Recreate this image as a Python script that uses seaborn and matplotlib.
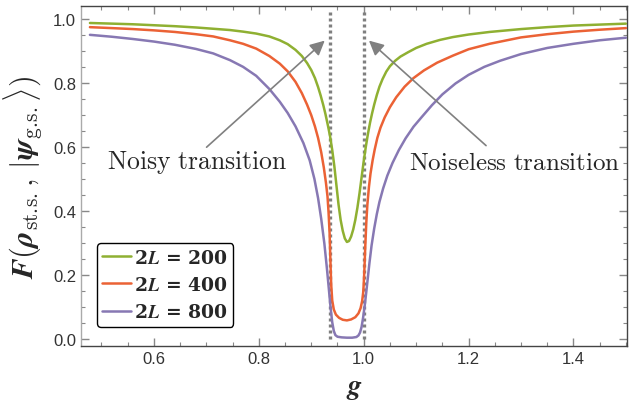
import numpy as np
import pandas as pd
import matplotlib
matplotlib.use("Agg")
import matplotlib.pyplot as plt
import seaborn as sns

# valores (g, fidelidade) para cada tamanho de cadeia
g_200 = [0.478, 0.520, 0.560, 0.600, 0.640, 0.680, 0.713, 0.745, 0.770, 0.795, 0.820, 0.840,
         0.855, 0.870, 0.882, 0.892, 0.900, 0.907, 0.913, 0.918, 0.923, 0.927, 0.932, 0.936,
         0.940, 0.944, 0.948, 0.952, 0.956, 0.960, 0.964, 0.968, 0.972, 0.976, 0.980, 0.984,
         0.988, 0.992, 0.996, 1.000, 1.004, 1.008, 1.012, 1.016, 1.020, 1.025, 1.030, 1.036,
         1.043, 1.050, 1.060, 1.070, 1.085, 1.100, 1.120, 1.145, 1.170, 1.200, 1.240, 1.300,
         1.350, 1.400, 1.450, 1.500]
f_200 = [0.987, 0.985, 0.983, 0.980, 0.977, 0.973, 0.969, 0.965, 0.960, 0.954, 0.945, 0.933,
         0.921, 0.903, 0.884, 0.862, 0.840, 0.815, 0.787, 0.760, 0.730, 0.703, 0.665, 0.632,
         0.590, 0.540, 0.480, 0.420, 0.372, 0.338, 0.314, 0.303, 0.306, 0.320, 0.342, 0.372,
         0.410, 0.455, 0.505, 0.555, 0.600, 0.640, 0.675, 0.705, 0.732, 0.762, 0.788, 0.812,
         0.835, 0.852, 0.869, 0.882, 0.896, 0.909, 0.922, 0.934, 0.943, 0.951, 0.959, 0.968,
         0.974, 0.979, 0.982, 0.985]

g_400 = [0.478, 0.520, 0.560, 0.600, 0.640, 0.680, 0.713, 0.745, 0.770, 0.795, 0.820, 0.840,
         0.855, 0.870, 0.882, 0.892, 0.900, 0.907, 0.913, 0.919, 0.924, 0.928, 0.931, 0.933,
         0.935, 0.936, 0.937, 0.938, 0.940, 0.943, 0.947, 0.953, 0.960, 0.968, 0.976, 0.984,
         0.990, 0.994, 0.997, 0.999, 1.000, 1.001, 1.002, 1.003, 1.005, 1.007, 1.010, 1.013,
         1.017, 1.021, 1.026, 1.032, 1.040, 1.050, 1.062, 1.078, 1.095, 1.115, 1.140, 1.170,
         1.200, 1.240, 1.300, 1.350, 1.400, 1.450, 1.500]
f_400 = [0.974, 0.971, 0.968, 0.964, 0.959, 0.952, 0.945, 0.933, 0.922, 0.907, 0.884, 0.860,
         0.836, 0.803, 0.768, 0.732, 0.699, 0.664, 0.628, 0.583, 0.535, 0.488, 0.445, 0.395,
         0.330, 0.275, 0.220, 0.170, 0.120, 0.092, 0.076, 0.066, 0.060, 0.058, 0.061, 0.068,
         0.080, 0.096, 0.118, 0.145, 0.170, 0.205, 0.245, 0.290, 0.365, 0.420, 0.475, 0.517,
         0.558, 0.592, 0.628, 0.660, 0.692, 0.724, 0.755, 0.788, 0.815, 0.839, 0.863, 0.885,
         0.905, 0.922, 0.942, 0.952, 0.960, 0.966, 0.971]

g_800 = [0.478, 0.520, 0.560, 0.600, 0.640, 0.680, 0.713, 0.745, 0.770, 0.795, 0.820, 0.840,
         0.855, 0.870, 0.885, 0.897, 0.906, 0.913, 0.919, 0.925, 0.930, 0.934, 0.937, 0.940,
         0.943, 0.946, 0.950, 0.958, 0.968, 0.978, 0.986, 0.990, 0.993, 0.996, 0.999, 1.002,
         1.005, 1.008, 1.011, 1.015, 1.020, 1.025, 1.030, 1.037, 1.045, 1.055, 1.067, 1.080,
         1.095, 1.110, 1.130, 1.150, 1.175, 1.200, 1.230, 1.260, 1.300, 1.350, 1.400, 1.450,
         1.500]
f_800 = [0.950, 0.944, 0.937, 0.929, 0.919, 0.906, 0.892, 0.871, 0.850, 0.822, 0.781, 0.741,
         0.706, 0.664, 0.612, 0.558, 0.500, 0.440, 0.375, 0.298, 0.218, 0.148, 0.095, 0.052,
         0.025, 0.012, 0.007, 0.005, 0.004, 0.004, 0.006, 0.011, 0.020, 0.038, 0.068, 0.105,
         0.148, 0.193, 0.238, 0.292, 0.345, 0.390, 0.428, 0.470, 0.510, 0.550, 0.590, 0.627,
         0.663, 0.692, 0.730, 0.764, 0.798, 0.825, 0.850, 0.869, 0.890, 0.909, 0.922, 0.933,
         0.941]

tamanhos = ["200", "400", "800"]
cores = ["#8FB032", "#EB6235", "#8778B3"]

# transicoes (linhas pontilhadas)
g_ruidosa = 0.936
g_sem_ruido = 1.0

sns.set_style("ticks")
plt.rcParams["mathtext.fontset"] = "cm"

df = pd.concat([
    pd.DataFrame({"g": g_200, "F": f_200, "N": tamanhos[0]}),
    pd.DataFrame({"g": g_400, "F": f_400, "N": tamanhos[1]}),
    pd.DataFrame({"g": g_800, "F": f_800, "N": tamanhos[2]}),
])

fig = plt.figure(figsize=(6.29, 4.06), dpi=100)
ax = fig.add_axes([0.1288, 0.1453, 0.868, 0.8374])

for g0 in [g_ruidosa, g_sem_ruido]:
    ax.plot([g0, g0], [0.0, 1.022], color="#7f7f7f", lw=2.4, ls=(0, (0.9, 0.9)), zorder=1)

sns.lineplot(data=df, x="g", y="F", hue="N", palette=cores, lw=1.8, ax=ax, zorder=3)

ax.set_xlim(0.461, 1.502)
ax.set_ylim(-0.022, 1.04)
ax.set_xticks([0.6, 0.8, 1.0, 1.2, 1.4])
ax.set_yticks([0.0, 0.2, 0.4, 0.6, 0.8, 1.0])
ax.set_xticks(np.arange(0.5, 1.51, 0.05), minor=True)
ax.set_yticks(np.arange(0.0, 1.01, 0.05), minor=True)
ax.tick_params(which="both", direction="in", top=True, right=True, color="#888888",
               labelsize=12, labelcolor="#333333")
ax.tick_params(which="major", length=6, width=1.0)
ax.tick_params(which="minor", length=3, width=0.8)
for rot in ax.get_xticklabels() + ax.get_yticklabels():
    rot.set_fontfamily("Liberation Sans")
for lado in ax.spines.values():
    lado.set_color("#444444")
    lado.set_linewidth(1.0)
ax.spines["left"].set_color("#aaaaaa")

ax.set_xlabel(r"$\boldsymbol{g}$", fontsize=20, labelpad=5)
ax.set_ylabel(r"$\boldsymbol{F(\rho}_{\mathrm{st.\!s.}}\boldsymbol{,\,|\psi}_{\mathrm{g.\!s.}}"
              r"\boldsymbol{\rangle)}$", fontsize=22, labelpad=6)

seta = dict(arrowstyle="-|>", color="#808080", lw=1.2, mutation_scale=22, shrinkA=0, shrinkB=0)
ax.annotate("", xy=(0.9257, 0.932), xytext=(0.7004, 0.599), arrowprops=seta)
ax.annotate("", xy=(1.010, 0.932), xytext=(1.2333, 0.604), arrowprops=seta)
ax.text(0.682, 0.553, r"$\mathrm{Noisy\ transition}$", fontsize=18.5, ha="center", va="center")
ax.text(1.2876, 0.553, r"$\mathrm{Noiseless\ transition}$", fontsize=18, ha="center", va="center")

# legenda com algarismos em negrito serifado
handles, _ = ax.get_legend_handles_labels()
rotulos = [r"2$\boldsymbol{L}$ = %s" % t for t in tamanhos]
leg = ax.legend(handles, rotulos, loc="lower left", bbox_to_anchor=(0.029, 0.056),
                prop={"family": "DejaVu Serif", "weight": "bold", "size": 13.5},
                frameon=True, fancybox=True, edgecolor="black", handlelength=1.5,
                handletextpad=0.2, borderpad=0.3, labelspacing=0.5, borderaxespad=0)
leg.get_frame().set_linewidth(1.0)
leg.get_frame().set_alpha(1)

plt.savefig("out.png", dpi=100)
